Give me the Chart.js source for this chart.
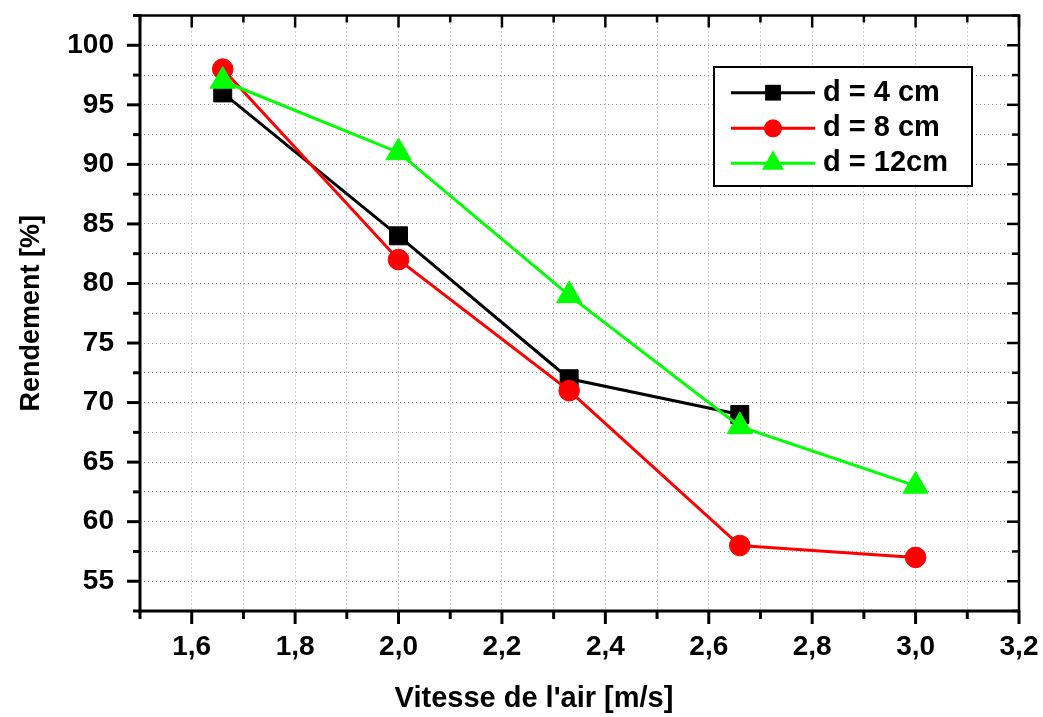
<!DOCTYPE html>
<html><head><meta charset="utf-8">
<script src="https://cdn.jsdelivr.net/npm/chart.js@4.4.0/dist/chart.umd.min.js"></script>
<style>html,body{margin:0;padding:0;background:#fff;} #wrap{width:1043px;height:717px;}</style>
</head><body><div id="wrap"><canvas id="c" width="1043" height="717"></canvas></div>
<script>
// ---- data ----
const xValues = [1.66, 2.0, 2.33, 2.66, 3.0];
const seriesLabels = ['d = 4 cm', 'd = 8 cm', 'd = 12cm'];
const rend4 = [96, 84, 72, 69, null];
const rend8 = [98, 82, 71, 58, 57];
const rend12 = [97, 91, 79, 68, 63];
const xAxisMin = 1.5, xAxisMax = 3.2, xStep = 0.1;
const yAxisMin = 52.5, yAxisMax = 102.5, yStep = 2.5;
const xTitle = "Vitesse de l'air [m/s]";
const yTitle = 'Rendement [%]';

const FONT = "'Liberation Sans', Arial, Helvetica, sans-serif";
function pts(arr) { return xValues.map((x, i) => ({ x: x, y: arr[i] })).filter(p => p.y !== null); }

function marker(ctx, style, x, y, r, color) {
  ctx.fillStyle = color; ctx.beginPath();
  if (style === 'rect') { const s = Math.SQRT1_2 * r; ctx.rect(x - s, y - s, 2 * s, 2 * s); }
  else if (style === 'triangle') { ctx.moveTo(x, y - r); ctx.lineTo(x + 0.866 * r, y + 0.5 * r); ctx.lineTo(x - 0.866 * r, y + 0.5 * r); ctx.closePath(); }
  else { ctx.arc(x, y, r, 0, Math.PI * 2); }
  ctx.fill();
}
function seg(ctx, x1, y1, x2, y2) { ctx.beginPath(); ctx.moveTo(x1, y1); ctx.lineTo(x2, y2); ctx.stroke(); }
function noPad(s) { s.paddingTop = 0; s.paddingBottom = 0; s.paddingLeft = 0; s.paddingRight = 0; }

const framePlugin = {
  id: 'frame',
  afterDatasetsDraw(chart) {
    const ctx = chart.ctx;
    const L = { x: 713, y: 66, w: 260, h: 121, rows: [92.7, 128.3, 163.3], lx1: 731, lx2: 815, mx: 773, tx: 823 };
    ctx.save();
    ctx.fillStyle = '#fff'; ctx.fillRect(L.x, L.y, L.w, L.h);
    ctx.lineWidth = 2; ctx.strokeStyle = '#000'; ctx.strokeRect(L.x + 1, L.y + 1, L.w - 2, L.h - 2);
    chart.data.datasets.forEach((ds, i) => {
      const yy = L.rows[i];
      ctx.strokeStyle = ds.borderColor; ctx.lineWidth = 3; seg(ctx, L.lx1, yy, L.lx2, yy);
      marker(ctx, ds.pointStyle, L.mx, yy, ds.pointRadius * 0.88, ds.pointBackgroundColor);
      ctx.fillStyle = '#000'; ctx.font = 'bold 29px ' + FONT; ctx.textAlign = 'left'; ctx.textBaseline = 'middle';
      ctx.fillText(ds.label, L.tx, yy);
    });
    ctx.restore();
  },
  afterDraw(chart) {
    const { ctx, chartArea: a, scales: { x, y } } = chart;
    ctx.save();
    ctx.strokeStyle = '#000'; ctx.lineCap = 'butt';
    x.ticks.forEach(t => {
      const px = x.getPixelForValue(t.value);
      const major = Math.round(t.value * 10) % 2 === 0;
      ctx.lineWidth = 3; seg(ctx, px, a.bottom, px, a.bottom + (major ? 13 : 8));
      ctx.lineWidth = 2.5; seg(ctx, px, a.top, px, a.top + (major ? 12 : 7));
    });
    y.ticks.forEach(t => {
      const py = y.getPixelForValue(t.value);
      const major = Math.abs(t.value % 5) < 1e-6;
      ctx.lineWidth = 3; seg(ctx, a.left, py, a.left - (major ? 13 : 7), py);
      ctx.lineWidth = 2.5; seg(ctx, a.right, py, a.right - (major ? 12 : 7), py);
    });
    ctx.lineWidth = 2.5;
    seg(ctx, a.left, a.top, a.right + 1.25, a.top);
    seg(ctx, a.right, a.top, a.right, a.bottom);
    ctx.lineWidth = 3;
    seg(ctx, a.left, a.top - 1.25, a.left, a.bottom + 1.5);
    seg(ctx, a.left - 1.5, a.bottom, a.right + 1.25, a.bottom);
    ctx.fillStyle = '#000'; ctx.font = 'bold 29px ' + FONT; ctx.textAlign = 'center'; ctx.textBaseline = 'alphabetic';
    ctx.fillText(xTitle, 534, 706.5);
    ctx.restore();
  }
};

const tickFont = { family: FONT, size: 28, weight: 'bold' };

new Chart(document.getElementById('c'), {
  type: 'line',
  data: {
    datasets: [
      { label: seriesLabels[0], data: pts(rend4), borderColor: '#000000', backgroundColor: '#000000', pointBackgroundColor: '#000000', pointBorderColor: '#000000', pointStyle: 'rect', pointRadius: 12.7, pointBorderWidth: 1, borderWidth: 3, order: 3 },
      { label: seriesLabels[1], data: pts(rend8), borderColor: '#ff0000', backgroundColor: '#ff0000', pointBackgroundColor: '#ff0000', pointBorderColor: '#ff0000', pointStyle: 'circle', pointRadius: 10.3, pointBorderWidth: 1, borderWidth: 3, order: 2 },
      { label: seriesLabels[2], data: pts(rend12), borderColor: '#00ff00', backgroundColor: '#00ff00', pointBackgroundColor: '#00ff00', pointBorderColor: '#00ff00', pointStyle: 'triangle', pointRadius: 14.5, pointBorderWidth: 1, borderWidth: 3, order: 1 }
    ]
  },
  options: {
    responsive: false, animation: false, events: [],
    layout: { padding: { top: 12, right: 24, left: 0, bottom: 0 } },
    plugins: { legend: { display: false }, tooltip: { enabled: false } },
    scales: {
      x: {
        type: 'linear', min: xAxisMin, max: xAxisMax,
        ticks: {
          stepSize: xStep, autoSkip: false, maxRotation: 0, minRotation: 0, padding: 19, color: '#000', font: tickFont,
          callback: v => { const k = Math.round(v * 10); return k % 2 === 0 ? (k / 10).toFixed(1).replace('.', ',') : ''; }
        },
        grid: { color: '#999', drawTicks: false, lineWidth: 1 },
        border: { display: false, dash: [1, 3] },
        afterFit: s => { s.height = 106; noPad(s); }
      },
      y: {
        type: 'linear', min: yAxisMin, max: yAxisMax,
        ticks: {
          stepSize: yStep, autoSkip: false, padding: 26, color: '#000', font: tickFont,
          callback: v => (Math.abs(v % 5) < 1e-6 ? String(v) : '')
        },
        title: { display: true, text: yTitle, color: '#000', font: { family: FONT, size: 27, weight: 'bold' }, padding: { top: 15, bottom: 0 } },
        grid: { color: '#999', drawTicks: false, lineWidth: 1 },
        border: { display: false, dash: [1, 3] },
        afterFit: s => { s.width = 140; noPad(s); }
      }
    }
  },
  plugins: [framePlugin]
});
</script>
</body></html>
